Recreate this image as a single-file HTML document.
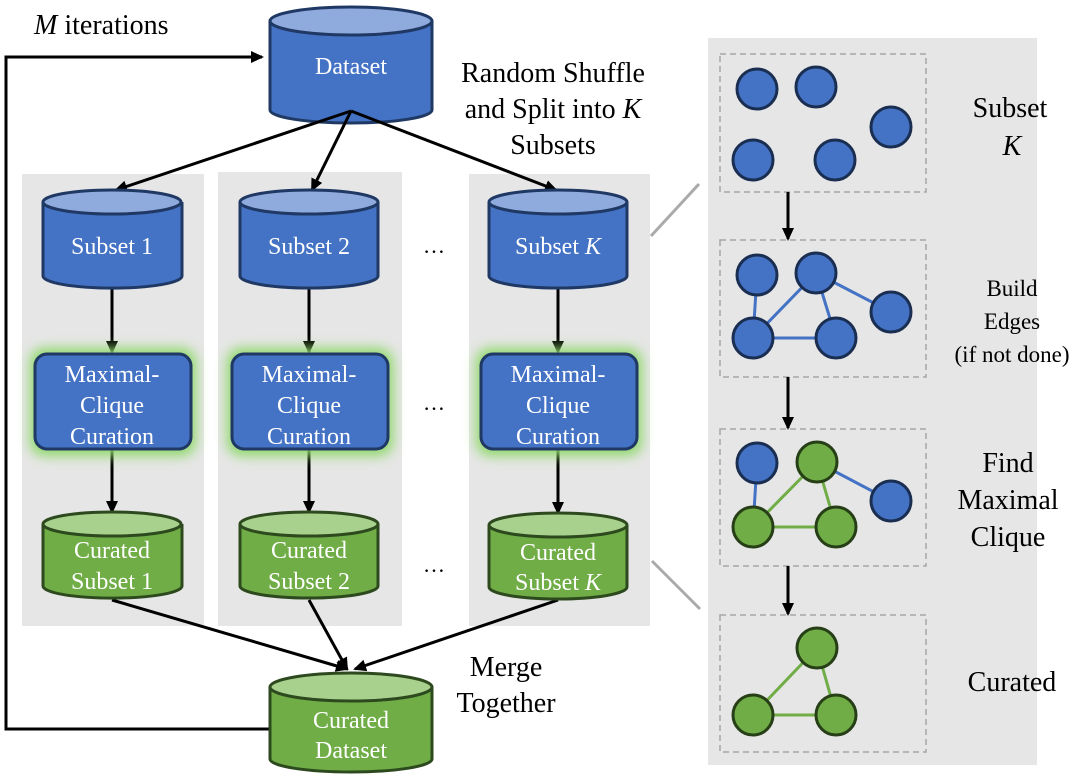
<!DOCTYPE html>
<html><head><meta charset="utf-8"><style>
html,body{margin:0;padding:0;background:#fff;}
svg{display:block;}
text{font-family:"Liberation Serif",serif;}
</style></head><body>
<svg width="1080" height="783" viewBox="0 0 1080 783" xmlns="http://www.w3.org/2000/svg">
<defs>
<marker id="ah" markerWidth="14" markerHeight="14" refX="11" refY="6" orient="auto" markerUnits="userSpaceOnUse">
<path d="M0,0 L13,6 L0,12 Z" fill="#000"/></marker>
<filter id="glow" x="-30%" y="-30%" width="160%" height="160%"><feGaussianBlur stdDeviation="6"/></filter>
</defs>
<rect x="22" y="174" width="182" height="452" fill="#e6e6e6"/>
<rect x="218" y="172" width="184" height="454" fill="#e6e6e6"/>
<rect x="469" y="174" width="181" height="452" fill="#e6e6e6"/>
<rect x="708" y="38" width="329" height="727" fill="#e6e6e6"/>
<line x1="651" y1="236" x2="699" y2="184" stroke="#aaa" stroke-width="3"/>
<line x1="652" y1="561" x2="700" y2="609" stroke="#aaa" stroke-width="3"/>

<polyline points="270,729 6,729 6,57 262,57" fill="none" stroke="#000" stroke-width="3" marker-end="url(#ah)"/>
<text x="34" y="34" font-size="28"><tspan font-style="italic">M</tspan> iterations</text>

<g stroke="#1f3864" stroke-width="3">
<path d="M270,21 V110 A81,13 0 0 0 432,110 V21" fill="#4472c4"/>
<ellipse cx="351" cy="21" rx="81" ry="14" fill="#8faadc"/>
</g>
<text x="351" y="74" font-size="24" fill="#fff" text-anchor="middle">Dataset</text>
<text x="553" y="82" font-size="28" text-anchor="middle">Random Shuffle</text>
<text x="553" y="118" font-size="28" text-anchor="middle">and Split into <tspan font-style="italic">K</tspan></text>
<text x="553" y="154" font-size="28" text-anchor="middle">Subsets</text>

<g stroke="#000" stroke-width="3" fill="none" marker-end="url(#ah)">
<line x1="351" y1="111" x2="116" y2="190"/>
<line x1="351" y1="111" x2="312" y2="190"/>
<line x1="351" y1="111" x2="556" y2="190"/>
<line x1="112" y1="288" x2="112" y2="352"/>
<line x1="309" y1="288" x2="309" y2="352"/>
<line x1="558" y1="288" x2="558" y2="352"/>
<line x1="112" y1="450" x2="112" y2="512"/>
<line x1="309" y1="450" x2="309" y2="512"/>
<line x1="558" y1="450" x2="558" y2="513"/>
<line x1="112" y1="600" x2="347" y2="669"/>
<line x1="309" y1="600" x2="347" y2="669"/>
<line x1="558" y1="600" x2="355" y2="669"/>
</g>

<g stroke="#1f3864" stroke-width="3">
<path d="M43,202 V276 A69,12 0 0 0 182,276 V202" fill="#4472c4"/>
<ellipse cx="112" cy="202" rx="69" ry="12" fill="#8faadc"/>
<path d="M240,202 V276 A69,12 0 0 0 378,276 V202" fill="#4472c4"/>
<ellipse cx="309" cy="202" rx="69" ry="12" fill="#8faadc"/>
<path d="M489,202 V276 A69,12 0 0 0 627,276 V202" fill="#4472c4"/>
<ellipse cx="558" cy="202" rx="69" ry="12" fill="#8faadc"/>
</g>
<g font-size="24" fill="#fff" text-anchor="middle">
<text x="112" y="254">Subset 1</text>
<text x="309" y="254">Subset 2</text>
<text x="558" y="254">Subset <tspan font-style="italic">K</tspan></text>
</g>

<g fill="#8fd86a" filter="url(#glow)">
<rect x="30" y="348" width="166" height="108" rx="14"/>
<rect x="227" y="348" width="166" height="108" rx="14"/>
<rect x="476" y="348" width="166" height="108" rx="14"/>
</g>
<g fill="#4472c4" stroke="#1f3864" stroke-width="3">
<rect x="35" y="354" width="156" height="95" rx="12"/>
<rect x="232" y="354" width="156" height="95" rx="12"/>
<rect x="481" y="354" width="156" height="95" rx="12"/>
</g>
<g font-size="24" fill="#fff" text-anchor="middle">
<text x="112" y="382">Maximal-</text><text x="112" y="413">Clique</text><text x="112" y="444">Curation</text>
<text x="309" y="382">Maximal-</text><text x="309" y="413">Clique</text><text x="309" y="444">Curation</text>
<text x="558" y="382">Maximal-</text><text x="558" y="413">Clique</text><text x="558" y="444">Curation</text>
</g>

<g stroke="#2d4a1e" stroke-width="3">
<path d="M43,524 V586 A69,12 0 0 0 182,586 V524" fill="#70ad47"/>
<ellipse cx="112" cy="524" rx="69" ry="12" fill="#a9d18e"/>
<path d="M240,524 V586 A69,12 0 0 0 378,586 V524" fill="#70ad47"/>
<ellipse cx="309" cy="524" rx="69" ry="12" fill="#a9d18e"/>
<path d="M489,525 V587 A69,12 0 0 0 627,587 V525" fill="#70ad47"/>
<ellipse cx="558" cy="525" rx="69" ry="12" fill="#a9d18e"/>
</g>
<g font-size="24" fill="#fff" text-anchor="middle">
<text x="112" y="558">Curated</text><text x="112" y="589">Subset 1</text>
<text x="309" y="558">Curated</text><text x="309" y="589">Subset 2</text>
<text x="558" y="560">Curated</text><text x="558" y="590">Subset <tspan font-style="italic">K</tspan></text>
</g>

<g font-size="22" text-anchor="middle">
<text x="434" y="253">…</text><text x="434" y="410">…</text><text x="434" y="572">…</text>
</g>

<g stroke="#2d4a1e" stroke-width="3">
<path d="M270,687 V759 A81,13 0 0 0 432,759 V687" fill="#70ad47"/>
<ellipse cx="351" cy="687" rx="81" ry="14" fill="#a9d18e"/>
</g>
<text x="351" y="728" font-size="24" fill="#fff" text-anchor="middle">Curated</text>
<text x="351" y="758" font-size="24" fill="#fff" text-anchor="middle">Dataset</text>
<text x="506" y="676" font-size="28" text-anchor="middle">Merge</text>
<text x="506" y="712" font-size="28" text-anchor="middle">Together</text>

<g fill="none" stroke="#a6a6a6" stroke-width="1.5" stroke-dasharray="6,4">
<rect x="720" y="54" width="206" height="138"/>
<rect x="720" y="240" width="206" height="137"/>
<rect x="720" y="429" width="206" height="137"/>
<rect x="720" y="615" width="206" height="137"/>
</g>
<g stroke="#000" stroke-width="3" marker-end="url(#ah)">
<line x1="788" y1="192" x2="788" y2="239"/>
<line x1="788" y1="377" x2="788" y2="428"/>
<line x1="788" y1="566" x2="788" y2="614"/>
</g>
<g stroke-width="3">
<g stroke="#4472c4">
<line x1="757" y1="275" x2="753" y2="338"/><line x1="816" y1="273" x2="753" y2="338"/>
<line x1="816" y1="273" x2="836" y2="338"/><line x1="816" y1="273" x2="891" y2="312"/>
<line x1="753" y1="338" x2="836" y2="338"/>
<line x1="757" y1="463" x2="753" y2="527"/><line x1="817" y1="462" x2="891" y2="501"/>
</g>
<g stroke="#70ad47">
<line x1="817" y1="462" x2="753" y2="527"/><line x1="817" y1="462" x2="836" y2="527"/><line x1="753" y1="527" x2="836" y2="527"/>
<line x1="817" y1="648" x2="753" y2="715"/><line x1="817" y1="648" x2="836" y2="715"/><line x1="753" y1="715" x2="836" y2="715"/>
</g>
</g>
<g fill="#4472c4" stroke="#1a2e52" stroke-width="3">
<circle cx="757" cy="89" r="20"/><circle cx="816" cy="87" r="20"/><circle cx="891" cy="127" r="20"/><circle cx="753" cy="160" r="20"/><circle cx="835" cy="160" r="20"/>
<circle cx="757" cy="275" r="20"/><circle cx="816" cy="273" r="20"/><circle cx="891" cy="312" r="20"/><circle cx="753" cy="338" r="20"/><circle cx="836" cy="338" r="20"/>
<circle cx="757" cy="463" r="20"/><circle cx="891" cy="501" r="20"/>
</g>
<g fill="#70ad47" stroke="#263f16" stroke-width="3">
<circle cx="817" cy="462" r="20"/><circle cx="753" cy="527" r="20"/><circle cx="836" cy="527" r="20"/>
<circle cx="817" cy="648" r="20"/><circle cx="753" cy="715" r="20"/><circle cx="836" cy="715" r="20"/>
</g>
<g font-size="28" text-anchor="middle">
<text x="1010" y="117">Subset</text><text x="1012" y="155" font-style="italic">K</text>
<text x="1012" y="296" font-size="23">Build</text>
<text x="1012" y="329" font-size="23">Edges</text>
<text x="1012" y="362" font-size="23">(if not done)</text>
<text x="1008" y="472">Find</text>
<text x="1008" y="509">Maximal</text>
<text x="1008" y="546">Clique</text>
<text x="1012" y="691">Curated</text>
</g>
</svg>
</body></html>
